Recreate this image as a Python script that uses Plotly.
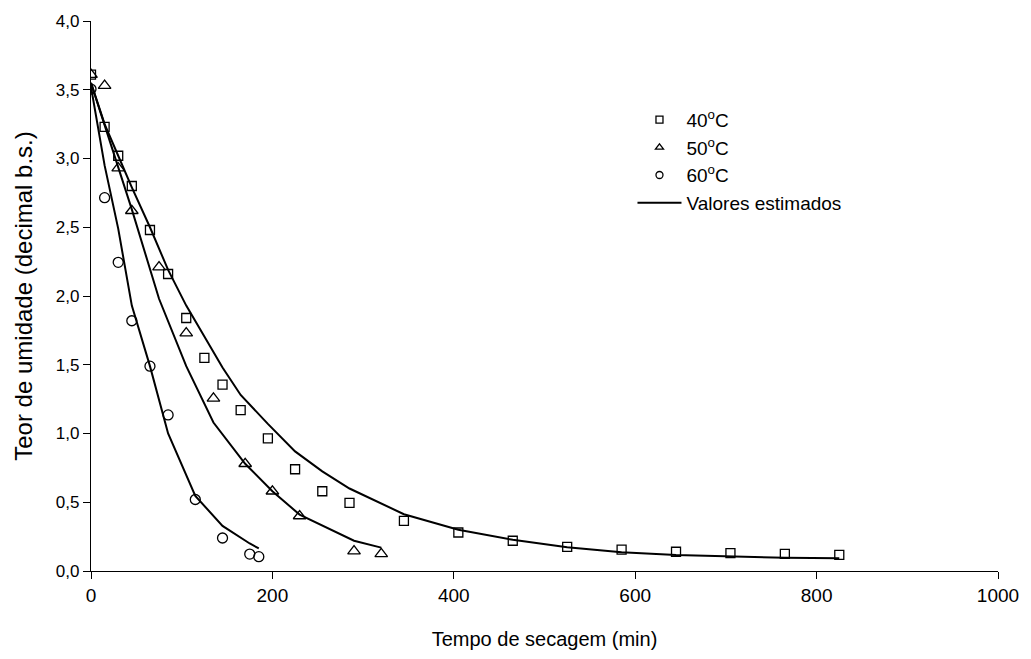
import plotly.graph_objects as go

# Drying time (min) and moisture content (decimal, dry basis) per temperature
t40 = [0, 15, 30, 45, 65, 85, 105, 125, 145, 165, 195, 225, 255, 285, 345, 405, 465, 525, 585, 645, 705, 765, 825]
m40 = [3.61, 3.23, 3.02, 2.80, 2.48, 2.16, 1.84, 1.55, 1.355, 1.17, 0.965, 0.74, 0.58, 0.495, 0.365, 0.28, 0.22, 0.175, 0.155, 0.14, 0.13, 0.125, 0.118]
e40 = [3.55, 3.25, 3.02, 2.79, 2.50, 2.19, 1.93, 1.70, 1.48, 1.28, 1.07, 0.87, 0.725, 0.60, 0.413, 0.30, 0.227, 0.172, 0.137, 0.116, 0.104, 0.096, 0.092]

t50 = [0, 15, 30, 45, 75, 105, 135, 170, 200, 230, 290, 320]
m50 = [3.61, 3.53, 2.93, 2.62, 2.21, 1.73, 1.255, 0.78, 0.58, 0.40, 0.145, 0.125]
e50 = [3.55, 3.24, 2.94, 2.63, 1.98, 1.49, 1.08, 0.78, 0.58, 0.41, 0.22, 0.17]

t60 = [0, 15, 30, 45, 65, 85, 115, 145, 175, 185]
m60 = [3.505, 2.715, 2.245, 1.82, 1.49, 1.135, 0.52, 0.24, 0.123, 0.104]
e60 = [3.52, 2.95, 2.49, 1.93, 1.49, 1.00, 0.546, 0.328, 0.20, 0.165]

x_ticks = [0, 200, 400, 600, 800, 1000]
y_ticks = [0.0, 0.5, 1.0, 1.5, 2.0, 2.5, 3.0, 3.5, 4.0]

FONT = "Liberation Sans, Arial, sans-serif"
BLACK = "#000000"

fig = go.Figure()

# Model (estimated) curves
for t, e in [(t40, e40), (t50, e50), (t60, e60)]:
    fig.add_trace(go.Scatter(x=t, y=e, mode="lines",
                             line=dict(color=BLACK, width=2),
                             showlegend=False, hoverinfo="skip"))

# Experimental points
series = [
    (t40, m40, "square-open", 9, "40<sup>o</sup>C"),
    (t50, m50, "triangle-up-open", 11, "50<sup>o</sup>C"),
    (t60, m60, "circle-open", 10, "60<sup>o</sup>C"),
]
for t, m, sym, size, name in series:
    fig.add_trace(go.Scatter(x=t, y=m, mode="markers", name=name,
                             marker=dict(symbol=sym, size=size, color=BLACK,
                                         line=dict(color=BLACK, width=1.3)),
                             showlegend=False))

# Legend entries (smaller symbols than in the plot area)
for t, m, sym, size, name in series:
    fig.add_trace(go.Scatter(x=[None], y=[None], mode="markers", name=name,
                             marker=dict(symbol=sym, size=7, color=BLACK,
                                         line=dict(color=BLACK, width=1.3))))
fig.add_trace(go.Scatter(x=[None], y=[None], mode="lines", name="Valores estimados",
                         line=dict(color=BLACK, width=2)))

axis_common = dict(
    showline=True, linecolor=BLACK, linewidth=1.3, mirror=False,
    ticks="outside", ticklen=7, tickwidth=1.3, tickcolor=BLACK,
    showgrid=False, zeroline=False,
)

fig.update_layout(
    width=1031, height=659,
    margin=dict(l=91, r=27, t=20, b=87),
    paper_bgcolor="white", plot_bgcolor="white",
    separators=",.",
    font=dict(family=FONT, color=BLACK),
    xaxis=dict(range=[0, 1000], tickvals=x_ticks, tickformat="d",
               tickfont=dict(size=19, family=FONT, color=BLACK),
               title=dict(text="Tempo de secagem (min)",
                          font=dict(size=20, family=FONT, color=BLACK), standoff=27),
               **axis_common),
    yaxis=dict(range=[0, 4], tickvals=y_ticks, tickformat=".1f",
               tickfont=dict(size=17, family=FONT, color=BLACK),
               title=dict(text="Teor de umidade (decimal b.s.)",
                          font=dict(size=24, family=FONT, color=BLACK), standoff=16),
               **axis_common),
    legend=dict(x=0.597, y=0.855, xanchor="left", yanchor="top",
                bgcolor="rgba(0,0,0,0)", borderwidth=0,
                font=dict(size=19, family=FONT, color=BLACK),
                itemwidth=44, tracegroupgap=0),
    showlegend=True,
)

fig.write_html("out.html")
